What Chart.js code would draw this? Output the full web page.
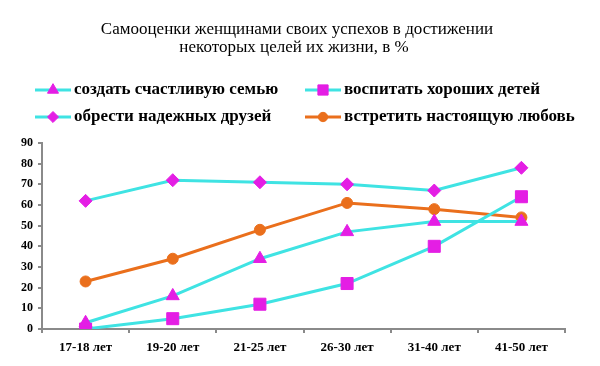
<!DOCTYPE html>
<html>
<head>
<meta charset="utf-8">
<script src="https://cdn.jsdelivr.net/npm/chart.js@4/dist/chart.umd.min.js"></script>
<style>
  html, body { margin: 0; padding: 0; background: #fff; }
  #wrap { width: 600px; height: 366px; position: relative; }
</style>
</head>
<body>
<div id="wrap"><canvas id="chart" width="600" height="366"></canvas></div>
<script>
// data
var AGES = ["17-18 лет", "19-20 лет", "21-25 лет", "26-30 лет", "31-40 лет", "41-50 лет"];
var FAMILY = [3, 16, 34, 47, 52, 52];
var CHILDREN = [0, 5, 12, 22, 40, 64];
var FRIENDS = [62, 72, 71, 70, 67, 78];
var LOVE = [23, 34, 48, 61, 58, 54];
var SERIES_NAMES = [
  "создать счастливую семью",
  "воспитать хороших детей",
  "обрести надежных друзей",
  "встретить настоящую любовь"
];
var TITLE_LINES = ["Самооценки женщинами своих успехов в достижении", "некоторых целей их жизни, в %"];

var CYAN = "#3fe3e3";
var MAGENTA = "#e41ee4";
var ORANGE = "#ea6f1c";
var SERIF = "'Liberation Serif', 'DejaVu Serif', serif";

function series(label, data, style, radius, line, fill) {
  return {
    label: label,
    data: data,
    borderColor: line,
    borderWidth: 3,
    pointStyle: style,
    pointRadius: radius,
    pointHoverRadius: radius,
    pointBackgroundColor: fill,
    pointBorderColor: fill,
    pointBorderWidth: 1,
    tension: 0,
    fill: false
  };
}

// title + two-column legend drawn straight on the canvas
var refHeader = {
  id: "refHeader",
  afterDraw: function (chart) {
    var ctx = chart.ctx;
    ctx.save();
    ctx.fillStyle = "#000";
    ctx.textAlign = "center";
    ctx.textBaseline = "middle";
    ctx.font = "17px " + SERIF;
    ctx.fillText(TITLE_LINES[0], 297, 30);
    ctx.fillText(TITLE_LINES[1], 294, 48);

    var slots = [
      { x: 35, y: 90 }, { x: 305, y: 90 },
      { x: 35, y: 117 }, { x: 305, y: 117 }
    ];
    ctx.beginPath();
    ctx.rect(0, 0, 588, 140);
    ctx.clip();
    chart.data.datasets.forEach(function (ds, i) {
      var s = slots[i];
      ctx.strokeStyle = ds.borderColor;
      ctx.lineWidth = 3;
      ctx.beginPath();
      ctx.moveTo(s.x, s.y);
      ctx.lineTo(s.x + 36, s.y);
      ctx.stroke();
      ctx.fillStyle = ds.pointBackgroundColor;
      ctx.strokeStyle = ds.pointBorderColor;
      ctx.lineWidth = 1;
      Chart.helpers.drawPoint(ctx, { pointStyle: ds.pointStyle, radius: ds.pointRadius * 0.85, borderWidth: 1, rotation: 0 }, s.x + 18, s.y);
      ctx.fillStyle = "#000";
      ctx.textAlign = "left";
      ctx.font = "bold 17px " + SERIF;
      ctx.fillText(ds.label, s.x + 39, s.y);
    });
    ctx.restore();
  }
};

new Chart(document.getElementById("chart"), {
  type: "line",
  data: {
    labels: AGES,
    datasets: [
      series(SERIES_NAMES[0], FAMILY, "triangle", 7.5, CYAN, MAGENTA),
      series(SERIES_NAMES[1], CHILDREN, "rect", 8.5, CYAN, MAGENTA),
      series(SERIES_NAMES[2], FRIENDS, "rectRot", 6.5, CYAN, MAGENTA),
      series(SERIES_NAMES[3], LOVE, "circle", 5.5, ORANGE, ORANGE)
    ]
  },
  options: {
    responsive: false,
    animation: false,
    devicePixelRatio: 1,
    layout: { padding: { left: 0, right: 35, top: 143, bottom: 0 } },
    plugins: {
      legend: { display: false },
      title: { display: false },
      tooltip: { enabled: false }
    },
    scales: {
      x: {
        offset: true,
        afterFit: function (scale) { scale.height = 37; },
        border: { color: "#8a8a8a", width: 2 },
        grid: { offset: true, drawOnChartArea: false, color: "#8a8a8a", lineWidth: 2, tickLength: 4 },
        ticks: { color: "#000", padding: 7, maxRotation: 0, font: { family: SERIF, size: 13, weight: "bold" } }
      },
      y: {
        min: 0,
        max: 90,
        afterFit: function (scale) { scale.width = 42; },
        border: { color: "#8a8a8a", width: 2 },
        grid: { drawOnChartArea: false, color: "#8a8a8a", lineWidth: 2, tickLength: 4 },
        ticks: { stepSize: 10, color: "#000", padding: 5, font: { family: SERIF, size: 12, weight: "bold" } }
      }
    }
  },
  plugins: [refHeader]
});
</script>
</body>
</html>
